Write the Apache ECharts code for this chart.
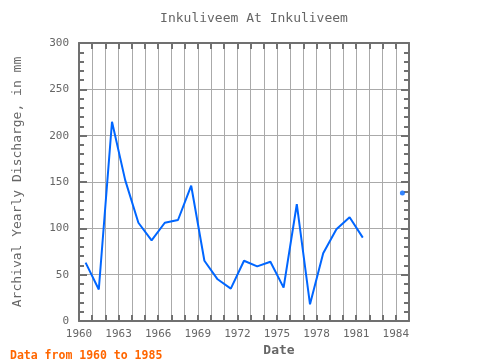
<!DOCTYPE html>
<html>
<head>
<meta charset="utf-8">
<script src="https://cdn.jsdelivr.net/npm/echarts@6/dist/echarts.min.js"></script>
<style>html,body{margin:0;padding:0;background:#fff}#c{width:480px;height:360px}</style>
</head>
<body>
<div id="c"></div>
<script>
// Data (decimal year of each yearly value; null = no data)
var years = [1960.5,1961.5,1962.5,1963.5,1964.5,1965.5,1966.5,1967.5,1968.5,1969.5,1970.5,1971.5,1972.5,1973.5,1974.5,1975.5,1976.5,1977.5,1978.5,1979.5,1980.5,1981.5,1982.5,1983.5,1984.5];
var discharge = [63,34,215,152,106,87,106,109,146,65,45,35,65,59,64,36,126,18,73,99,112,90,null,null,138];
var yTicks = [0,50,100,150,200,250,300];
var xLabelYears = [1960,1963,1966,1969,1972,1975,1978,1981,1984];
var titleText = 'Inkuliveem At Inkuliveem';
var yName = 'Archival Yearly Discharge, in mm';
var xName = 'Date';
var noteText = 'Data from 1960 to 1985';

var lineData = years.map(function(y,i){ return [y, discharge[i]]; });
var isolated = [];
discharge.forEach(function(v,i){
  if (v == null) return;
  var prev = i > 0 ? discharge[i-1] : null;
  var next = i < discharge.length-1 ? discharge[i+1] : null;
  if (prev == null && next == null) isolated.push([years[i], v]);
});

var font = 'DejaVu Sans Mono';
var frame = '#707070';
var grid = '#aaaaaa';
var chart = echarts.init(document.getElementById('c'), null, {renderer:'canvas'});
var axisCommonX = {
  type:'value', min:1960, max:1985, interval:1,
  axisLine:{show:true, onZero:false, lineStyle:{color:frame, width:2}},
  axisTick:{show:true, inside:true, length:6, lineStyle:{color:frame, width:2}}
};
chart.setOption({
  animation:false,
  title:[
    {text:titleText, left:249, top:7, textAlign:'center',
     textStyle:{fontFamily:font, fontSize:13, fontWeight:'normal', color:'#666'}},
    {text:xName, left:274, top:339, textAlign:'center',
     textStyle:{fontFamily:font, fontSize:13, fontWeight:'bold', color:'#666'}},
    {text:noteText, left:5, top:345,
     textStyle:{fontFamily:font, fontSize:11.5, fontWeight:'bold', color:'#ff6600'}}
  ],
  grid:{left:79, right:71, top:43, bottom:39, containLabel:false},
  xAxis:[
    Object.assign({}, axisCommonX, {
      position:'bottom',
      axisLabel:{show:true, margin:8, fontFamily:font, fontSize:11, color:'#666',
        formatter:function(v){ return xLabelYears.indexOf(v) >= 0 ? String(v) : ''; }},
      splitLine:{show:true, lineStyle:{color:grid, width:1}}
    }),
    Object.assign({}, axisCommonX, {
      position:'top',
      axisLabel:{show:false},
      splitLine:{show:false}
    })
  ],
  yAxis:[
    {type:'value', min:yTicks[0], max:yTicks[yTicks.length-1], interval:yTicks[1]-yTicks[0],
     position:'left',
     name:yName, nameLocation:'middle', nameGap:55, nameRotate:90,
     nameTextStyle:{fontFamily:font, fontSize:13, color:'#666'},
     axisLine:{show:true, onZero:false, lineStyle:{color:frame, width:2}},
     axisTick:{show:true, inside:true, length:8, lineStyle:{color:frame, width:2}},
     minorTick:{show:true, splitNumber:5, length:5, lineStyle:{color:frame, width:2}},
     axisLabel:{show:true, margin:10, fontFamily:font, fontSize:11, color:'#666'},
     splitLine:{show:true, lineStyle:{color:grid, width:1}}
    },
    {type:'value', min:yTicks[0], max:yTicks[yTicks.length-1], interval:yTicks[1]-yTicks[0],
     position:'right',
     axisLine:{show:true, onZero:false, lineStyle:{color:frame, width:2}},
     axisTick:{show:true, inside:true, length:8, lineStyle:{color:frame, width:2}},
     minorTick:{show:true, splitNumber:5, length:5, lineStyle:{color:frame, width:2}},
     axisLabel:{show:false},
     splitLine:{show:false}
    }
  ],
  series:[
    {type:'line', data:lineData, xAxisIndex:0, yAxisIndex:0,
     showSymbol:false, connectNulls:false,
     lineStyle:{color:'#0066ff', width:2}, itemStyle:{color:'#0066ff'}},
    {type:'scatter', data:isolated, xAxisIndex:0, yAxisIndex:0,
     symbol:'circle', symbolSize:5, itemStyle:{color:'#0066ff'}}
  ]
});
</script>
</body>
</html>
